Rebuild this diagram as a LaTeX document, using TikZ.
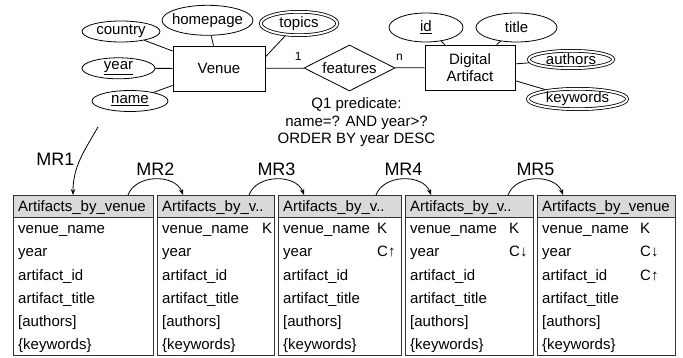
\documentclass[tikz,border=0pt]{standalone}
\usepackage{fontspec}
\setmainfont{Liberation Sans}
\usetikzlibrary{shapes.geometric,arrows.meta}

\tikzset{
  entity/.style={rectangle, draw, line width=0.8pt, minimum width=92pt, minimum height=45pt, inner sep=0pt, align=center},
  attr/.style={ellipse, draw, line width=0.8pt, inner sep=-4pt},
  multiattr/.style={attr, double, double distance=2pt, outer sep=1.8pt},
  rel/.style={diamond, draw, line width=0.8pt, inner sep=0pt, aspect=2},
  erline/.style={line width=0.8pt},
  card/.style={font=\fontsize{12}{14}\selectfont},
  cfhead/.style={rectangle, draw=black!80, fill=black!15, line width=0.9pt, anchor=north west, minimum height=22pt, inner sep=0pt, outer sep=0pt},
  cfbody/.style={rectangle, draw=black!80, line width=0.9pt, anchor=north west, minimum height=138pt, inner sep=0pt, outer sep=0pt},
  cfrow/.style={anchor=base west, inner sep=0pt},
  mrarrow/.style={line width=0.8pt, -{Stealth[length=6pt,width=4.5pt]}},
  mrlabel/.style={font=\fontsize{18}{20}\selectfont}
}

\newcommand{\cftable}[4]{
  \node at (#2,-195) (#1) [cfhead, minimum width=#3] {};
  \node at (#1.south west) (#1b) [cfbody, minimum width=#3] {};
  \node at ([xshift=5pt,yshift=-16.5pt]#1.north west) (#1t) [cfrow] {#4};
  \foreach \fld [count=\i] in {venue\_name,year,artifact\_id,artifact\_title,{[authors]},\{keywords\}}
    \node at ([xshift=5pt,yshift={-17pt-23pt*(\i-1)}]#1b.north west) (#1r\i) [cfrow] {\fld};
}

\begin{document}
\begin{tikzpicture}[x=1pt, y=1pt, font=\fontsize{15}{17.5}\selectfont]
\useasboundingbox (0,0) rectangle (683,-358);

% ER part
\node at (219,-68.5) (venue) [entity] {Venue};
\node at (470,-67.5) (da) [entity, minimum width=90pt] {Digital\\Artifact};
\node at (349.5,-68) (features) [rel, minimum width=91pt, minimum height=46pt] {features};

\node at (121,-31.5) (country) [attr, minimum width=78pt, minimum height=21pt] {country};
\node at (207.5,-20.3) (homepage) [attr, minimum width=91pt, minimum height=30pt] {homepage};
\node at (299,-23.5) (topics) [multiattr, minimum width=76.4pt, minimum height=23.4pt] {topics};
\node at (118.5,-68.3) (year) [attr, minimum width=73pt, minimum height=21pt] {\underline{year}};
\node at (130,-101) (name) [attr, minimum width=76pt, minimum height=21pt] {\underline{name}};
\node at (426,-27.5) (id) [attr, minimum width=74pt, minimum height=29pt] {\underline{id}};
\node at (516.5,-27.5) (title) [attr, minimum width=81pt, minimum height=29pt] {title};
\node at (571,-59.5) (authors) [multiattr, minimum width=84.4pt, minimum height=17.4pt] {authors};
\node at (577.5,-99) (keywords) [multiattr, minimum width=99.4pt, minimum height=20.4pt] {keywords};

\draw [erline] (country) -- (venue);
\draw [erline] (homepage) -- (venue);
\draw [erline] (topics.222) -- (venue.14);
\draw [erline] (year) -- (venue);
\draw [erline] (name) -- (venue);
\draw [erline] (venue) -- (features) node [pos=0.85, above=4pt, card] {1};
\draw [erline] (features) -- (da) node [pos=0.15, above=4pt, card] {n};
\draw [erline] (id) -- (da);
\draw [erline] (title) -- (da);
\draw [erline] (authors) -- (da);
\draw [erline] (keywords) -- (da);

\node at (356.5,-122.5) (q1) [align=center] {Q1 predicate:\\name=? AND year>?\\ORDER BY year DESC};

% column families
\cftable{t1}{13}{140pt}{Artifacts\_by\_venue}
\cftable{t2}{157}{117pt}{Artifacts\_by\_v..}
\cftable{t3}{278}{123pt}{Artifacts\_by\_v..}
\cftable{t4}{405}{128pt}{Artifacts\_by\_v..}
\cftable{t5}{537}{138pt}{Artifacts\_by\_venue}

\node at (262,0 |- t2r1.base) (t2k1) [cfrow] {K};
\node at (377,0 |- t3r1.base) (t3k1) [cfrow] {K};
\node at (377,0 |- t3r2.base) (t3k2) [cfrow] {C↑};
\node at (509,0 |- t4r1.base) (t4k1) [cfrow] {K};
\node at (509,0 |- t4r2.base) (t4k2) [cfrow] {C↓};
\node at (640,0 |- t5r1.base) (t5k1) [cfrow] {K};
\node at (640,0 |- t5r2.base) (t5k2) [cfrow] {C↓};
\node at (640,0 |- t5r3.base) (t5k3) [cfrow] {C↑};

% mapping rules
\coordinate (mr1s) at (98,-127);
\draw [mrarrow] (mr1s) to [out=240, in=90] node [pos=0.5, left=2pt, mrlabel] (mr1) {MR1} ([xshift=60pt]t1.north west);
\foreach \a/\b/\m in {t1/t2/2,t2/t3/3,t3/t4/4,t4/t5/5}
  \draw [mrarrow] ([xshift=-25pt]\a.north east) to [out=70, in=110, looseness=1.05] node [midway, above=0pt, mrlabel] (mr\m) {MR\m} ([xshift=26pt]\b.north west);
\end{tikzpicture}
\end{document}
